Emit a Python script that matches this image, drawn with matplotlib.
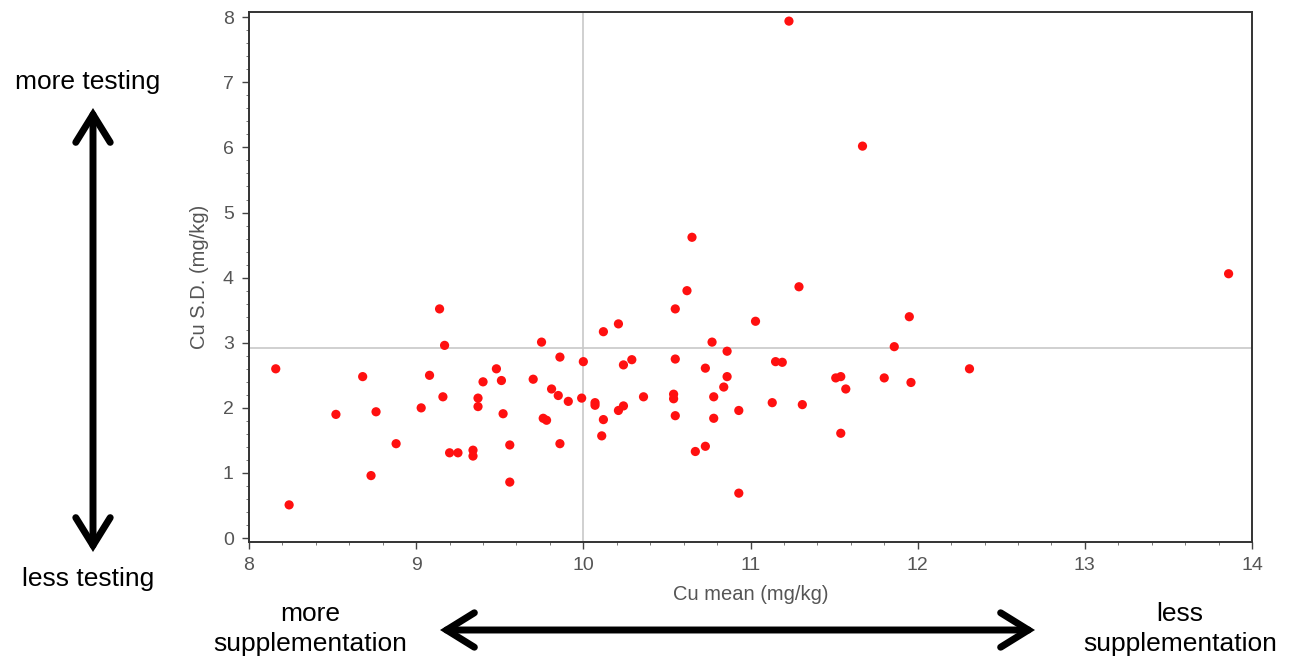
import matplotlib.pyplot as plt

plt.rcParams["font.family"] = ["Liberation Sans", "DejaVu Sans"]

# herd copper results: mean and standard deviation per farm (mg/kg)
cu_mean = [
    8.16, 8.68, 9.08, 9.48, 9.40, 9.51, 9.16, 9.37, 9.37, 9.03,
    8.52, 8.76, 9.52, 8.88, 9.20, 9.25, 9.34, 9.34, 8.73, 8.24,
    9.14, 9.17, 10.62, 10.55, 10.21, 10.12, 9.75, 10.77, 10.86, 9.86,
    10.00, 10.29, 10.24, 10.55, 10.73, 9.70, 10.86, 10.84, 9.81, 9.85,
    9.91, 9.99, 10.07, 10.07, 10.24, 10.21, 10.36, 10.54, 10.54, 10.78,
    9.76, 9.78, 10.12, 10.55, 10.78, 10.93, 9.56, 9.86, 10.11, 10.73,
    10.67, 9.56, 10.93, 11.29, 11.03, 11.95, 11.86, 11.15, 11.19, 12.31,
    11.51, 11.54, 11.80, 11.96, 11.57, 11.13, 11.31, 11.54, 11.67, 13.86,
    11.23, 10.65,
]
cu_sd = [
    2.60, 2.48, 2.50, 2.60, 2.40, 2.42, 2.17, 2.15, 2.02, 2.00,
    1.90, 1.94, 1.91, 1.45, 1.31, 1.31, 1.35, 1.26, 0.96, 0.51,
    3.52, 2.96, 3.80, 3.52, 3.29, 3.17, 3.01, 3.01, 2.87, 2.78,
    2.71, 2.74, 2.66, 2.75, 2.61, 2.44, 2.48, 2.32, 2.29, 2.19,
    2.10, 2.15, 2.08, 2.04, 2.03, 1.96, 2.17, 2.21, 2.14, 2.17,
    1.84, 1.81, 1.82, 1.88, 1.84, 1.96, 1.43, 1.45, 1.57, 1.41,
    1.33, 0.86, 0.69, 3.86, 3.33, 3.40, 2.94, 2.71, 2.70, 2.60,
    2.46, 2.48, 2.46, 2.39, 2.29, 2.08, 2.05, 1.61, 6.02, 4.06,
    7.94, 4.62,
]

# reference lines splitting the plot into quadrants
mean_ref = 10.0
sd_ref = 2.92

xticks = [8, 9, 10, 11, 12, 13, 14]
yticks = [0, 1, 2, 3, 4, 5, 6, 7, 8]

W, H = 1289, 660
fig = plt.figure(figsize=(W / 100, H / 100), dpi=100)
ax = fig.add_axes([249 / W, 1 - 542 / H, (1252 - 249) / W, (542 - 12) / H])

ax.axvline(mean_ref, color="#c8c8c8", lw=1.2, zorder=1)
ax.axhline(sd_ref, color="#c8c8c8", lw=1.2, zorder=1)

ax.scatter(cu_mean, cu_sd, s=44, color="#ff1010", edgecolors="none", zorder=3)

ax.set_xlim(8, 14)
ax.set_ylim(-0.06, 8.08)
ax.set_xticks(xticks)
ax.set_yticks(yticks)
ax.minorticks_on()
ax.tick_params(which="major", length=5, width=1, color="#444444",
               labelcolor="#555555", labelsize=14, pad=6)
ax.tick_params(which="minor", length=2.5, width=0.7, color="#777777")
for s in ax.spines.values():
    s.set_color("#333333")
    s.set_linewidth(1.4)

ax.set_xlabel("Cu mean (mg/kg)", fontsize=14.5, color="#555555", labelpad=8)
ax.set_ylabel("Cu S.D. (mg/kg)", fontsize=14.5, color="#555555", labelpad=10)


def px(x, y):
    return x / W, 1 - y / H


# interpretation arrows around the plot
arrow = dict(arrowstyle="<->, head_length=1.0, head_width=0.62",
             mutation_scale=20, lw=5, color="black",
             shrinkA=0, shrinkB=0, joinstyle="miter")
fig.add_artist(plt.matplotlib.patches.FancyArrowPatch(
    px(93, 108), px(93, 552), transform=fig.transFigure, **arrow))
fig.add_artist(plt.matplotlib.patches.FancyArrowPatch(
    px(440, 630), px(1035, 630), transform=fig.transFigure, **arrow))

fs = 19
fig.text(*px(88, 82), "more testing", ha="center", va="center", fontsize=fs)
fig.text(*px(88, 579), "less testing", ha="center", va="center", fontsize=fs)
fig.text(*px(310, 629), "more\nsupplementation", ha="center", va="center",
         fontsize=fs, linespacing=1.3)
fig.text(*px(1180, 629), "less\nsupplementation", ha="center", va="center",
         fontsize=fs, linespacing=1.3)

fig.savefig("out.png", dpi=100)
